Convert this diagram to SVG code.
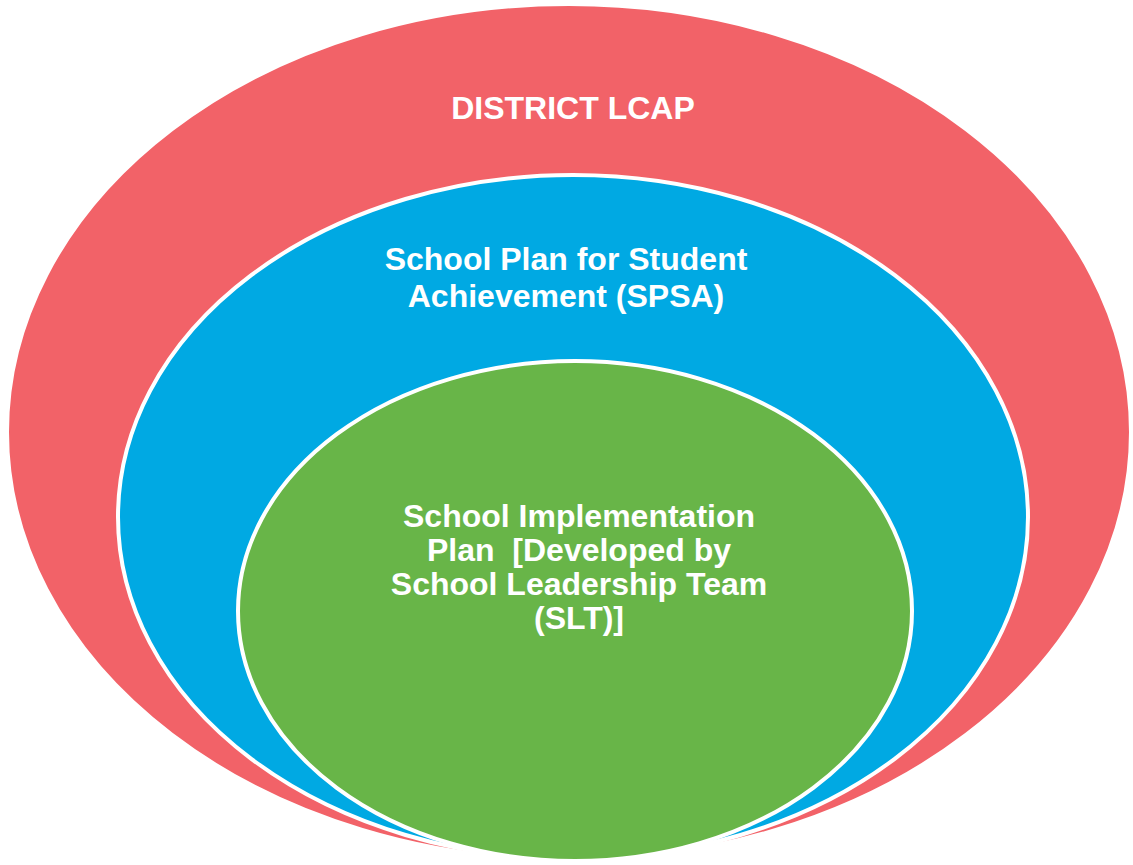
<svg xmlns="http://www.w3.org/2000/svg" width="1133" height="865" viewBox="0 0 1133 865">
<style>
.e{stroke:#FFFFFF;stroke-width:4}
.t{font-family:"Liberation Sans",Arial,sans-serif;font-weight:bold;font-size:32px;fill:#FFFFFF;text-anchor:middle}
</style>
<rect width="1133" height="865" fill="#FFFFFF"/>
<g id="district">
<ellipse class="e" cx="569" cy="432" rx="562" ry="428" fill="#F26268"/>
<text class="t" x="573" y="119">DISTRICT LCAP</text>
</g>
<g id="spsa">
<ellipse class="e" cx="573" cy="517" rx="455" ry="342" fill="#00A9E3"/>
<text class="t" x="566" y="270">School Plan for Student</text>
<text class="t" x="566" y="307">Achievement (SPSA)</text>
</g>
<g id="slt">
<ellipse class="e" cx="575" cy="611" rx="337" ry="250" fill="#68B548"/>
<text class="t" x="579" y="527">School Implementation</text>
<text class="t" x="579" y="561" xml:space="preserve">Plan  [Developed by</text>
<text class="t" x="579" y="595">School Leadership Team</text>
<text class="t" x="579" y="629">(SLT)]</text>
</g>
<g id="connectors"/>
</svg>
